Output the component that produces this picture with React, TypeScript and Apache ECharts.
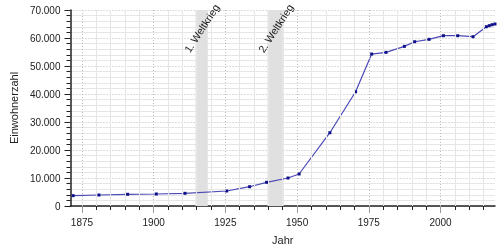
import React, { useEffect, useRef } from "react";
import * as echarts from "echarts";

// Census dates (fractional years) and population
const years = [1871.92, 1880.92, 1890.92, 1900.92, 1910.92, 1925.46, 1933.46, 1939.38, 1946.83, 1950.7, 1961.43, 1970.4, 1976.0, 1981.0, 1987.4, 1991.0, 1996.0, 2001.0, 2006.0, 2011.35, 2016.0, 2017.0, 2018.0, 2019.0];
const population = [3700, 3930, 4180, 4290, 4530, 5360, 6890, 8460, 10000, 11430, 26170, 40800, 54270, 54870, 57020, 58670, 59520, 60820, 60820, 60460, 64030, 64400, 64750, 65000];

const majorYears = [1875, 1900, 1925, 1950, 1975, 2000];
const minorYears = [1880, 1885, 1890, 1895, 1905, 1910, 1915, 1920, 1930, 1935, 1940, 1945, 1955, 1960, 1965, 1970, 1980, 1985, 1990, 1995, 2005, 2010, 2015];

const warStart = [1914.57, 1939.67];
const warEnd = [1918.86, 1945.35];
const warLabels = ["1. Weltkrieg", "2. Weltkrieg"];

const FONT = "Liberation Sans, Arial, sans-serif";

export default function App() {
  const ref = useRef<HTMLDivElement>(null);
  useEffect(() => {
    if (!ref.current) return;
    const chart = echarts.init(ref.current, null, { renderer: "svg" });
    const data = years.map((y, i) => [y, population[i]]);
    const option: any = {
      animation: false,
      textStyle: { fontFamily: FONT },
      grid: { left: 68, right: 5, top: 10, bottom: 44 },
      xAxis: [
        {
          type: "value",
          min: 1871,
          max: 2019,
          position: "bottom",
          name: "Jahr",
          nameLocation: "middle",
          nameGap: 28,
          nameTextStyle: { fontFamily: FONT, fontSize: 11, color: "#222" },
          axisLine: { show: true, onZero: false, lineStyle: { color: "#222", width: 1.5 } },
          axisTick: { show: true, customValues: majorYears, length: 7, lineStyle: { color: "#999", width: 1 } },
          axisLabel: {
            customValues: majorYears,
            fontFamily: FONT,
            fontSize: 10,
            color: "#222",
            margin: 11,
            formatter: (v: number) => String(v),
          },
          splitLine: { show: false },
          minorTick: { show: false },
          minorSplitLine: { show: false },
        },
        {
          type: "value",
          min: 1871,
          max: 2019,
          position: "bottom",
          axisLine: { show: false },
          axisTick: { show: true, customValues: minorYears, length: 4, lineStyle: { color: "#222", width: 1 } },
          axisLabel: { show: false, customValues: minorYears },
          splitLine: { show: false },
        },
      ],
      yAxis: {
        type: "value",
        min: 0,
        max: 70000,
        interval: 10000,
        name: "Einwohnerzahl",
        nameLocation: "middle",
        nameGap: 50,
        nameTextStyle: { fontFamily: FONT, fontSize: 11, color: "#222" },
        axisLine: { show: true, lineStyle: { color: "#222", width: 1.5 } },
        axisTick: { show: true, length: 6, lineStyle: { color: "#222" } },
        minorTick: { show: true, splitNumber: 5, length: 4, lineStyle: { color: "#222" } },
        axisLabel: {
          fontFamily: FONT,
          fontSize: 10,
          color: "#222",
          margin: 10,
          formatter: (v: number) => (v === 0 ? "0" : (v / 1000).toFixed(0) + ".000"),
        },
        splitLine: { show: true, lineStyle: { color: "#bbb", type: [1, 2], width: 1 } },
        minorSplitLine: { show: true, lineStyle: { color: "#e6e6e6", width: 1 } },
      },
      series: [
        {
          type: "line",
          xAxisIndex: 0,
          data: [],
          silent: true,
          z: 1,
          markLine: {
            silent: true,
            symbol: "none",
            label: { show: false },
            animation: false,
            data: [
              ...minorYears.map((y) => ({ xAxis: y, lineStyle: { color: "#e6e6e6", width: 1, type: "solid" } })),
              ...majorYears.map((y) => ({ xAxis: y, lineStyle: { color: "#bbb", width: 1, type: [1, 2] } })),
            ],
          },
        },
        {
          type: "line",
          xAxisIndex: 0,
          data,
          symbol: "rect",
          symbolSize: 3,
          itemStyle: { color: "#10108a" },
          lineStyle: { color: "#4a4ab8", width: 1.2 },
          markArea: {
            silent: true,
            itemStyle: { color: "#e0e0e0" },
            data: warStart.map((s, i) => [{ xAxis: s }, { xAxis: warEnd[i] }]),
          },
          z: 3,
        },
      ],
    };
    chart.setOption(option);
    const graphics = warLabels.map((t, i) => {
      const mid = (warStart[i] + warEnd[i]) / 2;
      const p = chart.convertToPixel({ gridIndex: 0 } as any, [mid, 63500]) as number[];
      return {
        type: "text",
        x: p[0],
        y: p[1],
        rotation: (57 * Math.PI) / 180,
        style: {
          text: t,
          fontFamily: FONT,
          fontSize: 10.5,
          fill: "#222",
          align: "center",
          verticalAlign: "middle",
        },
        z: 10,
      };
    });
    chart.setOption({ graphic: graphics });
    return () => chart.dispose();
  }, []);
  return <div ref={ref} style={{ position: "fixed", left: 0, top: 0, width: 500, height: 250 }} />;
}
